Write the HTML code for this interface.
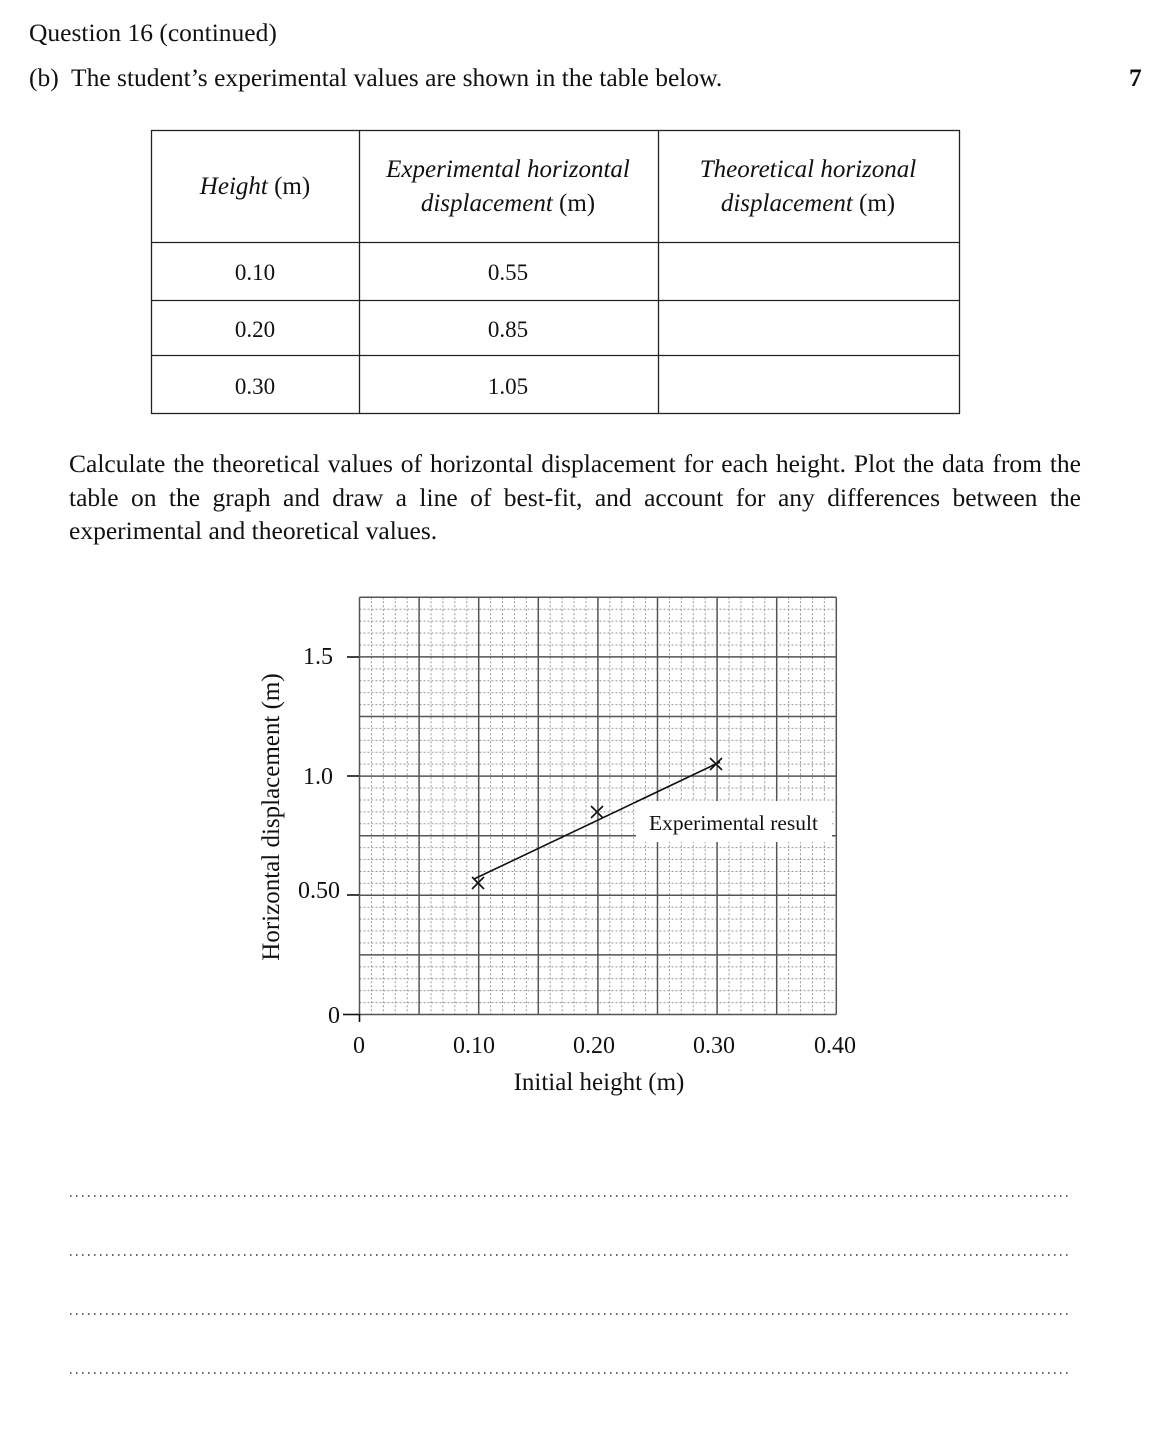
<!DOCTYPE html>
<html><head><meta charset="utf-8"><style>
body{margin:0;width:1176px;height:1442px;background:#fff;position:relative;font-family:"Liberation Serif",serif;color:#111;overflow:hidden}
.t{position:absolute;white-space:nowrap;font-size:25.5px}
</style></head><body>
<div class="t" style="left:29px;top:18px">Question 16 (continued)</div>
<div class="t" style="left:29px;top:63px">(b)&nbsp; The student’s experimental values are shown in the table below.</div>
<div class="t" style="left:1129px;top:63px;font-weight:bold">7</div>
<div class="t" style="left:69px;top:449px;width:1012px;text-align:justify;text-align-last:justify">Calculate the theoretical values of horizontal displacement for each height. Plot the data from the</div>
<div class="t" style="left:69px;top:483px;width:1012px;text-align:justify;text-align-last:justify">table on the graph and draw a line of best-fit, and account for any differences between the</div>
<div class="t" style="left:69px;top:516px">experimental and theoretical values.</div>
<svg width="1176" height="1442" style="position:absolute;left:0;top:0" font-family="Liberation Serif, serif" font-size="25" fill="#111">
<g stroke="#222" stroke-width="1.3" fill="none">
<rect x="151.5" y="130.5" width="808" height="283"/>
<line x1="359.5" y1="130" x2="359.5" y2="413"/><line x1="658.5" y1="130" x2="658.5" y2="413"/>
<line x1="151" y1="242.5" x2="959" y2="242.5"/><line x1="151" y1="300.5" x2="959" y2="300.5"/><line x1="151" y1="355.5" x2="959" y2="355.5"/>
</g>
<g text-anchor="middle">
<text x="255" y="194"><tspan font-style="italic">Height</tspan> (m)</text>
<text x="508" y="177" font-style="italic">Experimental horizontal</text>
<text x="508" y="211"><tspan font-style="italic">displacement</tspan> (m)</text>
<text x="808" y="177" font-style="italic">Theoretical horizonal</text>
<text x="808" y="211"><tspan font-style="italic">displacement</tspan> (m)</text>
<g font-size="23">
<text x="255" y="280">0.10</text><text x="508" y="280">0.55</text>
<text x="255" y="337">0.20</text><text x="508" y="337">0.85</text>
<text x="255" y="394">0.30</text><text x="508" y="394">1.05</text>
</g>
</g>
<g stroke="#999" stroke-width="1" stroke-dasharray="2,2" id="minor"></g>
<g stroke="#555" stroke-width="1.5" id="major"></g>
<rect x="636" y="801" width="196" height="41" fill="#fff"/>
<text x="649" y="830" font-size="21.5">Experimental result</text>
<g stroke="#111" stroke-width="1.6" fill="none">
<line x1="474" y1="879" x2="720" y2="762"/>
<path d="M472 877l12 12M484 877l-12 12M591 806l12 12M603 806l-12 12M710 758l12 12M722 758l-12 12"/>
<line x1="359.5" y1="1014" x2="359.5" y2="1022"/><line x1="343" y1="1014.5" x2="359" y2="1014.5"/>
<line x1="347" y1="657" x2="359" y2="657"/><line x1="347" y1="776" x2="359" y2="776"/><line x1="347" y1="895" x2="359" y2="895"/>
</g>
<g text-anchor="end" font-size="24">
<text x="333" y="664">1.5</text><text x="333" y="784">1.0</text><text x="340" y="898">0.50</text><text x="340" y="1023">0</text>
</g>
<g text-anchor="middle">
<g font-size="24">
<text x="359" y="1053">0</text><text x="474" y="1053">0.10</text><text x="594" y="1053">0.20</text><text x="714" y="1053">0.30</text><text x="835" y="1053">0.40</text>
</g>
<text x="599" y="1090">Initial height (m)</text>
<text transform="translate(279,817) rotate(-90)">Horizontal displacement (m)</text>
</g>
<g stroke="#333" stroke-width="1.5" stroke-dasharray="1.5,4.5">
<line x1="70" y1="1196" x2="1070" y2="1196"/><line x1="70" y1="1255" x2="1070" y2="1255"/><line x1="70" y1="1314" x2="1070" y2="1314"/><line x1="70" y1="1373" x2="1070" y2="1373"/>
</g>
</svg>
<script>
var ns="http://www.w3.org/2000/svg",mi=document.getElementById("minor"),ma=document.getElementById("major");
function L(g,x1,y1,x2,y2){var l=document.createElementNS(ns,"line");l.setAttribute("x1",x1);l.setAttribute("y1",y1);l.setAttribute("x2",x2);l.setAttribute("y2",y2);g.appendChild(l);}
var X0=359.5,Y0=1014.5,S=59.6/5;
for(var i=0;i<=40;i++){var x=X0+i*S;L(i%5?mi:ma,x,Y0-35*S,x,Y0);}
for(var j=0;j<=35;j++){var y=Y0-j*S;L(j%5?mi:ma,X0,y,X0+40*S,y);}
</script>
</body></html>
